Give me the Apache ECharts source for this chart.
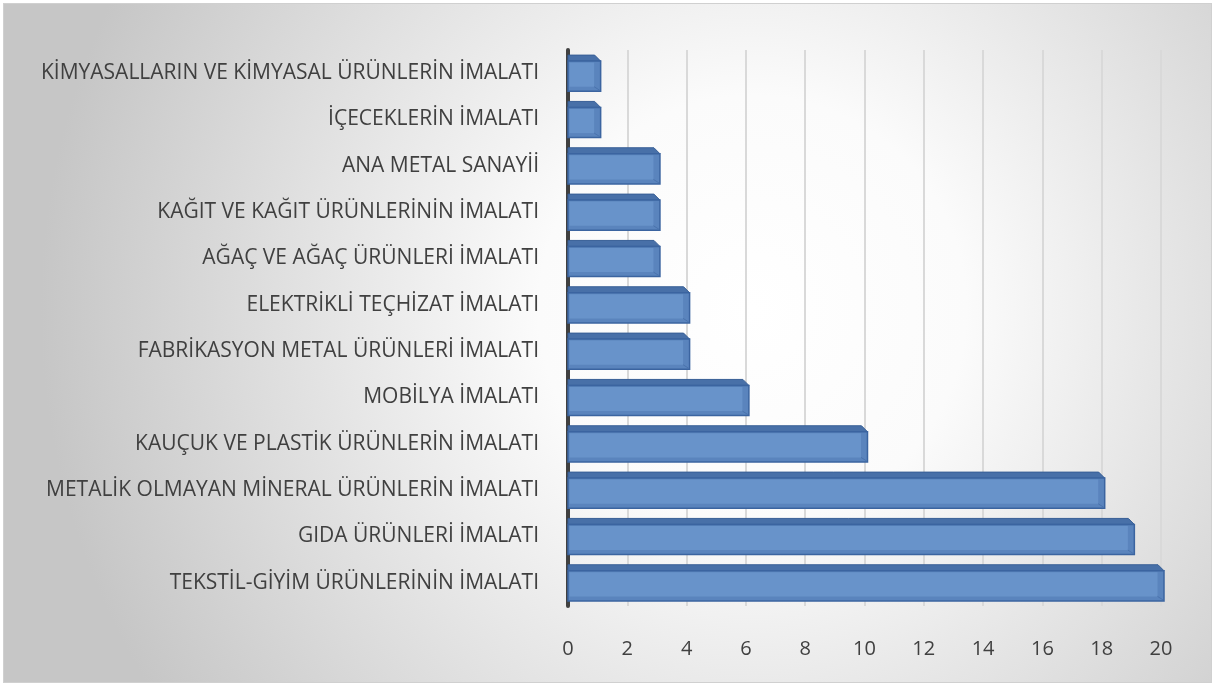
<!DOCTYPE html>
<html>
<head>
<meta charset="utf-8">
<script src="https://cdn.jsdelivr.net/npm/echarts@6/dist/echarts.min.js"></script>
<style>
html,body{margin:0;padding:0;background:#ffffff;}
#box{position:absolute;left:3px;top:3px;width:1207px;height:678px;border:1px solid #d0d0d0;}
#chart{width:1207px;height:678px;}
</style>
</head>
<body>
<div id="box"><div id="chart"></div></div>
<script>
const categories = [
  'KİMYASALLARIN VE KİMYASAL ÜRÜNLERİN İMALATI',
  'İÇECEKLERİN İMALATI',
  'ANA METAL SANAYİİ',
  'KAĞIT VE KAĞIT ÜRÜNLERİNİN İMALATI',
  'AĞAÇ VE AĞAÇ ÜRÜNLERİ İMALATI',
  'ELEKTRİKLİ TEÇHİZAT İMALATI',
  'FABRİKASYON METAL ÜRÜNLERİ İMALATI',
  'MOBİLYA İMALATI',
  'KAUÇUK VE PLASTİK ÜRÜNLERİN İMALATI',
  'METALİK OLMAYAN MİNERAL ÜRÜNLERİN İMALATI',
  'GIDA ÜRÜNLERİ İMALATI',
  'TEKSTİL-GİYİM ÜRÜNLERİNİN İMALATI'
];
const values = [1, 1, 3, 3, 3, 4, 4, 6, 10, 18, 19, 20];
const xTicks = [0, 2, 4, 6, 8, 10, 12, 14, 16, 18, 20];

const chart = echarts.init(document.getElementById('chart'));

function renderBar(params, api) {
  const idx = api.value(0);
  const v = api.value(1);
  const p0 = api.coord([0, idx]);
  const p1 = api.coord([v, idx]);
  const band = api.size([0, 1])[1];
  const h = band * 0.78;
  const d = 6; // depth
  const x0 = p0[0], x1 = p1[0] + 3;
  const yTop = p0[1] - h / 2;
  const yBot = p0[1] + h / 2;
  return {
    type: 'group',
    children: [
      { type: 'polygon', shape: { points: [[x0, yTop + d], [x0, yTop], [x1 - d, yTop], [x1, yTop + d]] },
        style: { fill: '#4870a8', stroke: '#385f96', lineWidth: 1 } },
      { type: 'rect', shape: { x: x0, y: yTop + d, width: x1 - x0, height: yBot - yTop - d },
        style: { fill: '#5a84bd', stroke: '#3b64a0', lineWidth: 1.5 } },
      { type: 'rect', shape: { x: x0 + 1.5, y: yTop + d + 1.5, width: Math.max(0, x1 - x0 - 8), height: yBot - yTop - d - 6 },
        style: { fill: '#6893ca', stroke: null } },
      { type: 'line', shape: { x1: x1 - 6.5, y1: yBot - 4.5, x2: x1 - 1, y2: yBot - 1 },
        style: { stroke: '#4a73ad', lineWidth: 1 } }
    ]
  };
}

chart.setOption({
  backgroundColor: {
    type: 'radial', x: 0.62, y: 0.45, r: 1.05,
    colorStops: [
      { offset: 0, color: '#ffffff' },
      { offset: 0.3, color: '#fbfbfb' },
      { offset: 1, color: '#c6c6c6' }
    ]
  },
  animation: false,
  grid: { left: 564, right: 50, top: 46, bottom: 76 },
  xAxis: {
    type: 'value', min: 0, max: 20, interval: 2,
    axisLine: { show: false },
    axisTick: { show: false },
    axisLabel: {
      color: '#404040', fontSize: 20, fontFamily: 'Open Sans', margin: 33,
      formatter: function (v) { return xTicks.indexOf(v) >= 0 ? String(v) : ''; }
    },
    splitLine: { show: true, lineStyle: { color: '#d9d9d9', width: 2 } }
  },
  yAxis: {
    type: 'category', data: categories, inverse: true,
    axisLine: { show: true, lineStyle: { color: '#404040', width: 4 } },
    axisTick: { show: false },
    axisLabel: { color: '#404040', fontSize: 21, fontFamily: 'Open Sans', margin: 29 },
    splitLine: { show: false }
  },
  series: [{
    type: 'custom',
    renderItem: renderBar,
    encode: { x: 1, y: 0 },
    data: values.map((v, i) => [i, v])
  }]
});
</script>
</body>
</html>
